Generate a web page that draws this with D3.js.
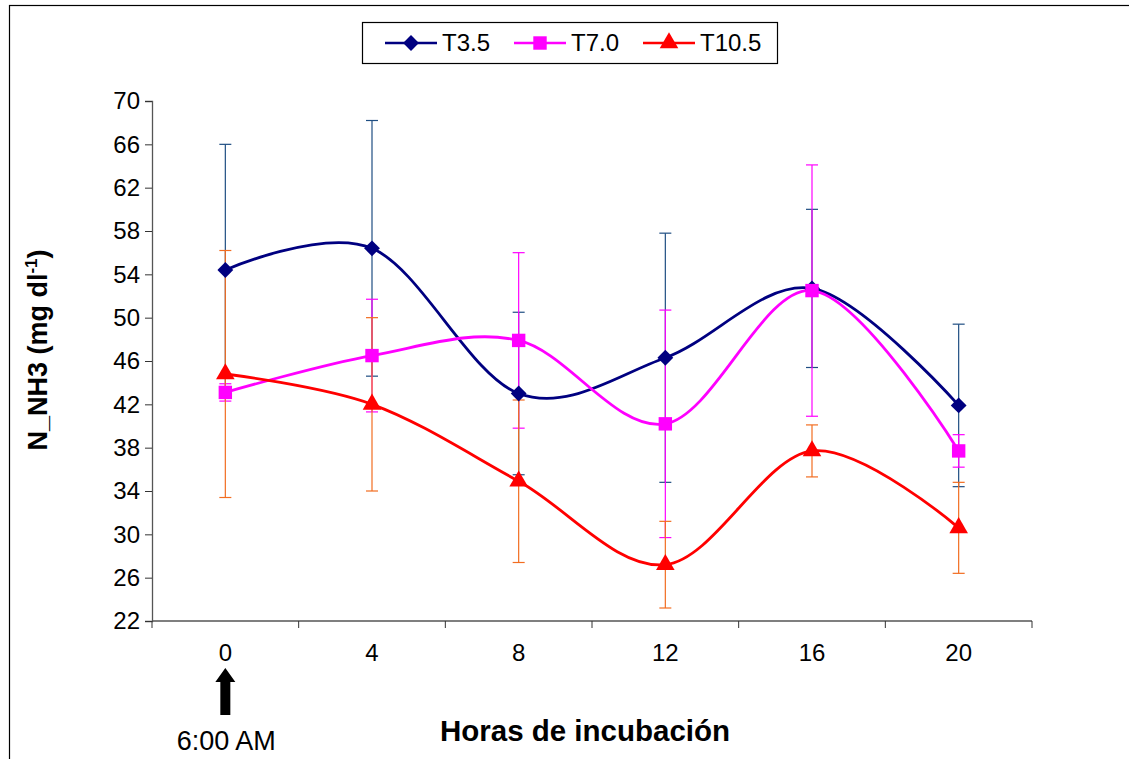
<!DOCTYPE html>
<html>
<head>
<meta charset="utf-8">
<script src="https://cdn.jsdelivr.net/npm/d3@7"></script>
<style>
  body { margin: 0; background: #fff; }
  text { font-family: "Liberation Sans", Arial, sans-serif; }
</style>
</head>
<body>
<div id="vis"></div>
<script>
// data
var hours = ["0", "4", "8", "12", "16", "20"];
var yTicks = [22, 26, 30, 34, 38, 42, 46, 50, 54, 58, 62, 66, 70];

var t35 = [54.4, 56.4, 43.0, 46.3, 52.7, 41.9];
var t35Err = [11.6, 11.8, 7.5, 11.5, 7.3, 7.5];

var t70 = [43.1, 46.5, 47.9, 40.2, 52.5, 37.7];
var t70Err = [0.8, 5.2, 8.1, 10.5, 11.6, 1.5];

var t105 = [44.8, 42.0, 34.9, 27.2, 37.7, 30.6];
var t105Err = [11.4, 8.0, 7.5, 4.0, 2.4, 4.2];

var seriesNames = ["T3.5", "T7.0", "T10.5"];

var series = [
  { name: seriesNames[0], values: t35, err: t35Err, color: "#000080", errColor: "#1f4e82", symbol: d3.symbolDiamond2, size: 160 },
  { name: seriesNames[1], values: t70, err: t70Err, color: "#ff00ff", errColor: "#ff00ff", symbol: d3.symbolSquare, size: 180 },
  { name: seriesNames[2], values: t105, err: t105Err, color: "#ff0000", errColor: "#f26d21", symbol: d3.symbolTriangle, size: 150 }
];

var width = 1129, height = 759;
var margin = { top: 101, right: 97, bottom: 138, left: 152 };
var innerW = width - margin.left - margin.right;
var innerH = height - margin.top - margin.bottom;

var svg = d3.select("#vis").append("svg")
  .attr("width", width)
  .attr("height", height);

// outer chart frame (runs off the right and bottom edges)
svg.append("rect")
  .attr("x", 9.5).attr("y", 5.5)
  .attr("width", width + 20).attr("height", height + 20)
  .attr("fill", "none")
  .attr("stroke", "#000")
  .attr("stroke-width", 1.2);

var g = svg.append("g")
  .attr("transform", "translate(" + margin.left + "," + margin.top + ")");

var x = d3.scaleBand().domain(hours).range([0, innerW]);
var y = d3.scaleLinear().domain([22, 70]).range([innerH, 0]);

function cx(i) { return x(hours[i]) + x.bandwidth() / 2; }

// y axis
var yAxis = g.append("g")
  .call(d3.axisLeft(y).tickValues(yTicks).tickSize(7).tickPadding(5).tickFormat(d3.format("d")));
yAxis.select(".domain").attr("stroke", "#555").attr("stroke-width", 1.3);
yAxis.selectAll(".tick line").attr("stroke", "#333");
yAxis.selectAll("text").attr("font-size", 24).attr("fill", "#000")
  .style("font-family", "Liberation Sans, Arial, sans-serif");

// x axis: ticks at band edges, labels in band centres
var xAxisG = g.append("g").attr("transform", "translate(0," + innerH + ")");
xAxisG.append("line")
  .attr("x1", 0).attr("x2", innerW)
  .attr("stroke", "#555").attr("stroke-width", 1.3);
var edges = hours.map(function (h) { return x(h); }).concat([innerW]);
xAxisG.selectAll(".edge")
  .data(edges)
  .enter()
  .append("line")
  .attr("x1", function (d) { return d; })
  .attr("x2", function (d) { return d; })
  .attr("y1", 0).attr("y2", 7)
  .attr("stroke", "#333");
xAxisG.selectAll(".lbl")
  .data(hours)
  .enter()
  .append("text")
  .attr("x", function (d) { return x(d) + x.bandwidth() / 2; })
  .attr("y", 40)
  .attr("text-anchor", "middle")
  .attr("font-size", 24)
  .text(function (d) { return d; });

// smoothed lines
var line = d3.line()
  .x(function (d, i) { return cx(i); })
  .y(function (d) { return y(d); })
  .curve(d3.curveCatmullRom.alpha(0));

series.forEach(function (s) {
  g.append("path")
    .datum(s.values)
    .attr("d", line)
    .attr("fill", "none")
    .attr("stroke", s.color)
    .attr("stroke-width", 2.8);
});

// error bars
series.forEach(function (s) {
  var eb = g.append("g");
  s.values.forEach(function (v, i) {
    var top = y(v + s.err[i]), bot = y(v - s.err[i]);
    eb.append("line")
      .attr("x1", cx(i)).attr("x2", cx(i))
      .attr("y1", top).attr("y2", bot)
      .attr("stroke", s.errColor).attr("stroke-width", 1.2);
    [top, bot].forEach(function (yy) {
      eb.append("line")
        .attr("x1", cx(i) - 6).attr("x2", cx(i) + 6)
        .attr("y1", yy).attr("y2", yy)
        .attr("stroke", s.errColor).attr("stroke-width", 1.2);
    });
  });
});

// markers
series.forEach(function (s) {
  g.selectAll(null)
    .data(s.values)
    .enter()
    .append("path")
    .attr("transform", function (d, i) { return "translate(" + cx(i) + "," + y(d) + ")"; })
    .attr("d", d3.symbol().type(s.symbol).size(s.size))
    .attr("fill", s.color);
});

// axis titles
svg.append("text")
  .attr("transform", "translate(47,350) rotate(-90)")
  .attr("text-anchor", "middle")
  .attr("font-size", 27)
  .attr("font-weight", "bold")
  .html('N_NH3 (mg dl<tspan dy="-10" font-size="17">-1</tspan><tspan dy="10">)</tspan>');

svg.append("text")
  .attr("x", 585)
  .attr("y", 741)
  .attr("text-anchor", "middle")
  .attr("font-size", 29.5)
  .attr("font-weight", "bold")
  .text("Horas de incubación");

// arrow marking 6:00 AM under hour 0
var ax = margin.left + cx(0);
svg.append("path")
  .attr("d", "M" + ax + ",668 L" + (ax + 10) + ",682 L" + (ax + 5) + ",682 L" + (ax + 5) + ",715 L" + (ax - 5) + ",715 L" + (ax - 5) + ",682 L" + (ax - 10) + ",682 Z")
  .attr("fill", "#000");
svg.append("text")
  .attr("x", ax + 1)
  .attr("y", 750)
  .attr("text-anchor", "middle")
  .attr("font-size", 27)
  .text("6:00 AM");

// legend
var legend = svg.append("g");
legend.append("rect")
  .attr("x", 362.5).attr("y", 22.5)
  .attr("width", 415).attr("height", 41)
  .attr("fill", "#fff")
  .attr("stroke", "#000")
  .attr("stroke-width", 1.2);
var legX = [385, 514, 643];
series.forEach(function (s, i) {
  var lx = legX[i];
  legend.append("line")
    .attr("x1", lx).attr("x2", lx + 52)
    .attr("y1", 43).attr("y2", 43)
    .attr("stroke", s.color).attr("stroke-width", 2.6);
  legend.append("path")
    .attr("transform", "translate(" + (lx + 26) + ",43)")
    .attr("d", d3.symbol().type(s.symbol).size(s.size))
    .attr("fill", s.color);
  legend.append("text")
    .attr("x", lx + 57)
    .attr("y", 51)
    .attr("font-size", 24)
    .text(s.name);
});
</script>
</body>
</html>
